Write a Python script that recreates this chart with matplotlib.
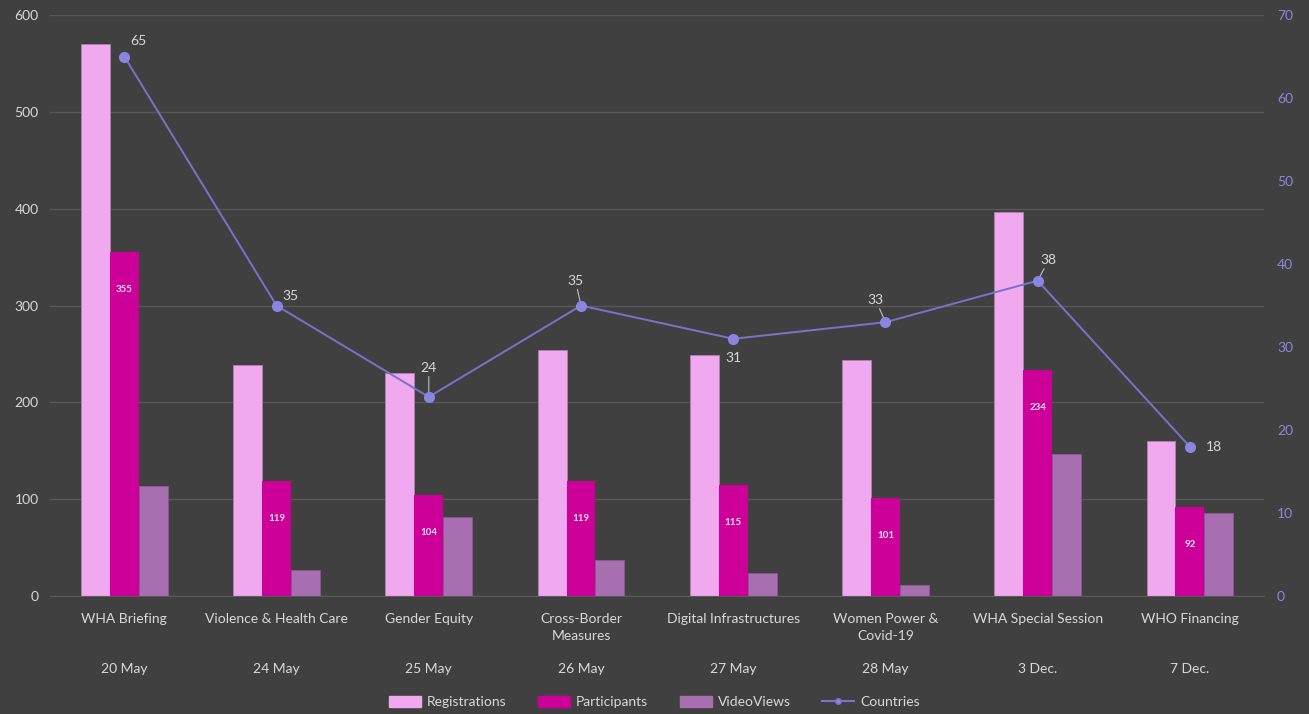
import matplotlib.pyplot as plt
import numpy as np
from matplotlib.lines import Line2D
from matplotlib.patches import Patch

# ------------------ Data ------------------
events = ["WHA Briefing", "Violence & Health Care", "Gender Equity", "Cross-Border\nMeasures",
          "Digital Infrastructures", "Women Power &\nCovid-19", "WHA Special Session", "WHO Financing"]
dates = ["20 May", "24 May", "25 May", "26 May", "27 May", "28 May", "3 Dec.", "7 Dec."]
registrations = [570, 239, 230, 254, 249, 244, 397, 160]
participants = [355, 119, 104, 119, 115, 101, 234, 92]
video_views = [114, 27, 82, 37, 24, 12, 147, 86]
countries = [65, 35, 24, 35, 31, 33, 38, 18]

# ------------------ Style ------------------
bg = "#404040"
txt = "#d9d9d9"
c_reg, c_par, c_vid = "#f0a8ee", "#cc0099", "#a86fb0"
c_line, c_mark = "#7b72c8", "#8a85e0"
plt.rcParams['font.family'] = ['Lato', 'DejaVu Sans']

fig = plt.figure(figsize=(13.09, 7.14), dpi=100, facecolor=bg)
ax = fig.add_axes([0.038, 0.165, 0.928, 0.814], facecolor=bg)
ax2 = ax.twinx()

x = np.arange(len(events))
w = 0.19
ax.bar(x - w, registrations, w, color=c_reg, edgecolor="#b080b0", linewidth=0.6, zorder=2)
ax.bar(x, participants, w, color=c_par, zorder=2)
ax.bar(x + w, video_views, w, color=c_vid, edgecolor="#8a5a90", linewidth=0.6, zorder=2)

for xi, v in zip(x, participants):
    ax.annotate(str(v), (xi, v), xytext=(0, -27), textcoords="offset points",
                ha="center", va="center", fontsize=7, color="#f4e0f0", fontweight="bold")

ax.set_xlim(-0.49, len(events) - 0.51)
ax.set_ylim(0, 600)
ax.set_yticks(range(0, 601, 100))
ax.grid(axis="y", color="#585858", linewidth=1, zorder=0)
ax.set_xticks(x)
ax.set_xticklabels(events, fontsize=10, color=txt, linespacing=1.5)
ax.tick_params(axis="x", length=0, pad=12)
ax.tick_params(axis="y", length=0, colors=txt, labelsize=10, pad=8)
for sp in ax.spines.values():
    sp.set_visible(False)
ax.spines["bottom"].set_visible(True)
ax.spines["bottom"].set_color("#5a5a5a")

for xi, d in zip(x, dates):
    ax.text(xi, -0.125, d, transform=ax.get_xaxis_transform(), ha="center", va="center",
            fontsize=10, color=txt)

# Countries line
ax2.plot(x, countries, color=c_line, linewidth=1.4, marker="o", markersize=7,
         markerfacecolor=c_mark, markeredgecolor=c_mark, zorder=5)
ax2.set_ylim(0, 70)
ax2.set_yticks(range(0, 71, 10))
ax2.tick_params(axis="y", length=0, colors="#8f86d9", labelsize=10, pad=9)
for sp in ax2.spines.values():
    sp.set_visible(False)

# label offsets (points) for the country values
offs = [(10, 11), (10, 7), (0, 21), (-4, 18), (0, -14), (-7, 16), (8, 15), (17, 0)]
leaders = [False, False, True, True, False, True, True, False]
for xi, v, (dx, dy), ld in zip(x, countries, offs, leaders):
    if ld:
        ax2.annotate(str(v), (xi, v), xytext=(dx, dy), textcoords="offset points",
                     ha="center", va="center", fontsize=10, color=txt,
                     arrowprops=dict(arrowstyle="-", color="#bfbfbf", lw=0.8, shrinkA=0, shrinkB=3))
    else:
        ax2.annotate(str(v), (xi, v), xytext=(dx, dy), textcoords="offset points",
                     ha="center", va="center", fontsize=10, color=txt)

handles = [Patch(color=c_reg), Patch(color=c_par), Patch(color=c_vid),
           Line2D([0], [0], color=c_line, marker="o", markersize=4, markerfacecolor=c_mark)]
leg = fig.legend(handles, ["Registrations", "Participants", "VideoViews", "Countries"],
                 loc="center", bbox_to_anchor=(0.5, 0.017), ncol=4, frameon=False,
                 fontsize=10, handlelength=2.3, handleheight=0.9, columnspacing=2.3,
                 handletextpad=0.4)
for t in leg.get_texts():
    t.set_color(txt)

fig.savefig("out.png", dpi=100, facecolor=bg)
